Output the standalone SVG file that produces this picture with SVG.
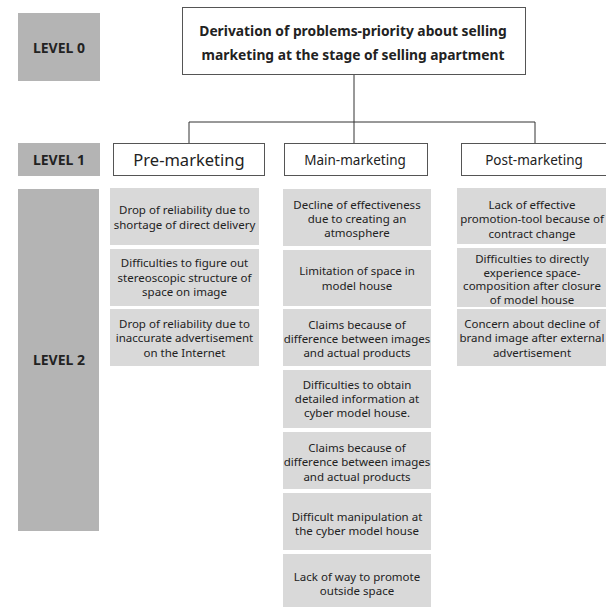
<svg xmlns="http://www.w3.org/2000/svg" width="606" height="607" viewBox="0 0 606 607">
<style>
text{font-family:"Noto Sans","Liberation Sans",sans-serif;fill:#222;text-anchor:middle}
.lvl rect{fill:#b4b4b4}
.lvl text{font-weight:bold;font-size:14px}
.hd rect{fill:#fff;stroke:#555;stroke-width:1}
.item rect{fill:#d9d9d9}
.item text{font-size:11.5px}
.conn line{stroke:#333;stroke-width:1}
</style>
<rect width="606" height="607" fill="#fff"/>
<g id="level0" class="lvl"><rect x="18" y="13" width="82" height="68"/><text x="59" y="53">LEVEL 0</text></g>
<g id="level1" class="lvl"><rect x="18" y="143" width="82" height="33"/><text x="59" y="165">LEVEL 1</text></g>
<g id="level2" class="lvl"><rect x="18" y="189" width="81" height="342"/><text x="59" y="365">LEVEL 2</text></g>

<g class="conn" id="connectors">
<line x1="354" y1="75" x2="354" y2="122"/>
<line x1="189" y1="122" x2="535" y2="122"/>
<line x1="189" y1="122" x2="189" y2="143"/>
<line x1="354" y1="122" x2="354" y2="143"/>
<line x1="535" y1="122" x2="535" y2="143"/>
</g>

<g id="root" class="hd"><rect x="182.5" y="7.5" width="343" height="67"/>
<text x="353" y="36" font-weight="bold" font-size="13.8">Derivation of problems-priority about selling</text>
<text x="353" y="60" font-weight="bold" font-size="13.8">marketing at the stage of selling apartment</text></g>

<g id="pre" class="hd"><rect x="113.5" y="143.5" width="151" height="32"/><text x="189" y="166" font-size="16.5">Pre-marketing</text></g>
<g id="main" class="hd"><rect x="284.5" y="143.5" width="143" height="32"/><text x="355" y="165" font-size="13.5">Main-marketing</text></g>
<g id="post" class="hd"><rect x="461.5" y="143.5" width="150" height="32"/><text x="534" y="165" font-size="13.5">Post-marketing</text></g>

<g id="pre1" class="item"><rect x="110" y="188" width="149" height="57"/><text x="184.5" y="214">Drop of reliability due to</text><text x="184.5" y="229">shortage of direct delivery</text></g>
<g id="pre2" class="item"><rect x="110" y="249" width="149" height="57"/><text x="184.5" y="267">Difficulties to figure out</text><text x="184.5" y="282">stereoscopic structure of</text><text x="184.5" y="296">space on image</text></g>
<g id="pre3" class="item"><rect x="110" y="309" width="149" height="57"/><text x="184.5" y="328">Drop of reliability due to</text><text x="184.5" y="342">inaccurate advertisement</text><text x="184.5" y="357">on the Internet</text></g>

<g id="main1" class="item"><rect x="283" y="189" width="148" height="57"/><text x="357" y="209">Decline of effectiveness</text><text x="357" y="223">due to creating an</text><text x="357" y="237">atmosphere</text></g>
<g id="main2" class="item"><rect x="283" y="250" width="148" height="56"/><text x="357" y="275">Limitation  of space in</text><text x="357" y="290">model house</text></g>
<g id="main3" class="item"><rect x="283" y="309" width="148" height="57"/><text x="357" y="329">Claims because of</text><text x="357" y="343">difference between images</text><text x="357" y="357">and actual products</text></g>
<g id="main4" class="item"><rect x="283" y="370" width="148" height="58"/><text x="357" y="389">Difficulties to obtain</text><text x="357" y="403">detailed information at</text><text x="357" y="417">cyber model house.</text></g>
<g id="main5" class="item"><rect x="283" y="432" width="148" height="57"/><text x="357" y="452">Claims because of</text><text x="357" y="466">difference between images</text><text x="357" y="481">and actual products</text></g>
<g id="main6" class="item"><rect x="283" y="493" width="148" height="57"/><text x="357" y="521">Difficult manipulation at</text><text x="357" y="535">the cyber model house</text></g>
<g id="main7" class="item"><rect x="283" y="554" width="148" height="53"/><text x="357" y="581">Lack of way to promote</text><text x="357" y="595">outside space</text></g>

<g id="post1" class="item"><rect x="457" y="188" width="149" height="56"/><text x="532" y="209">Lack of effective</text><text x="532" y="223">promotion-tool because of</text><text x="532" y="238">contract change</text></g>
<g id="post2" class="item"><rect x="457" y="248" width="149" height="59"/><text x="532" y="263" font-size="11">Difficulties to directly</text><text x="532" y="276.5" font-size="11">experience space-</text><text x="532" y="290" font-size="11">composition after closure</text><text x="532" y="303.5" font-size="11">of model house</text></g>
<g id="post3" class="item"><rect x="457" y="309" width="149" height="57"/><text x="532" y="328">Concern about decline of</text><text x="532" y="342">brand image after external</text><text x="532" y="357">advertisement</text></g>
</svg>
